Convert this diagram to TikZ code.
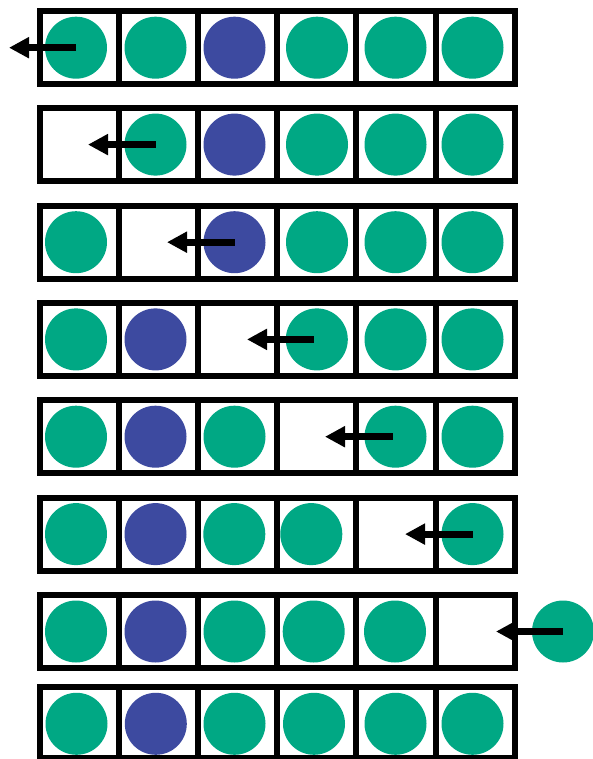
\documentclass[tikz,border=0pt]{standalone}
\usetikzlibrary{arrows.meta}
\definecolor{tealg}{RGB}{0,168,132}
\definecolor{bluec}{RGB}{61,74,160}
\begin{document}
\begin{tikzpicture}[x=1pt,y=-1pt,
  cellbox/.style={draw=black, line width=6pt, minimum width=79.17pt, minimum height=73pt, inner sep=0pt, outer sep=0pt},
  dot/.style={circle, minimum size=62pt, inner sep=0pt, outer sep=0pt},
  pusharrow/.style={line width=7pt, -{Triangle[length=20pt,width=20pt]}}]
\useasboundingbox (0,0) rectangle (593,759);
\clip (0,0) rectangle (593,759);
% cells
\foreach \r/\yc in {1/47.5,2/144.8,3/242.1,4/339.4,5/436.7,6/534,7/631.3}{
  \foreach \j in {1,...,6}{
    \node[cellbox] (cell-\r-\j) at ({39.7+79.17*(\j-0.5)}, \yc) {};
  }
}
\foreach \j in {1,...,6}{
  \node[cellbox, minimum height=70.7pt] (cell-8-\j) at ({39.7+79.17*(\j-0.5)}, 722.65) {};
}
% row 1
\foreach \j/\xx/\cc in {1/76/tealg,2/155.5/tealg,3/234.5/bluec,4/317/tealg,5/395.5/tealg,6/472.5/tealg}
  \node[dot, fill=\cc] (d-1-\j) at (\xx, 47.7) {};
% row 2
\foreach \j/\xx/\cc in {2/155.5/tealg,3/234.5/bluec,4/317/tealg,5/395.5/tealg,6/472.5/tealg}
  \node[dot, fill=\cc] (d-2-\j) at (\xx, 144.6) {};
% row 3
\foreach \j/\xx/\cc in {1/76/tealg,3/234.5/bluec,4/317/tealg,5/395.5/tealg,6/472.5/tealg}
  \node[dot, fill=\cc] (d-3-\j) at (\xx, 242.2) {};
% row 4
\foreach \j/\xx/\cc in {1/76/tealg,2/155.5/bluec,4/316.8/tealg,5/395.5/tealg,6/472.5/tealg}
  \node[dot, fill=\cc] (d-4-\j) at (\xx, 339.4) {};
% row 5
\foreach \j/\xx/\cc in {1/76/tealg,2/155.5/bluec,3/234.5/tealg,5/395.5/tealg,6/472.5/tealg}
  \node[dot, fill=\cc] (d-5-\j) at (\xx, 436.7) {};
% row 6
\foreach \j/\xx/\cc in {1/76/tealg,2/155.5/bluec,3/234.3/tealg,4/311.3/tealg,6/472.5/tealg}
  \node[dot, fill=\cc] (d-6-\j) at (\xx, 534.1) {};
% row 7
\foreach \j/\xx/\cc in {1/76/tealg,2/155.5/bluec,3/234.5/tealg,4/313.7/tealg,5/395/tealg}
  \node[dot, fill=\cc] (d-7-\j) at (\xx, 631.5) {};
\node[dot, fill=tealg] (d-7-ext) at (563, 631.5) {};
% row 8
\foreach \j/\xx/\cc in {1/76.5/tealg,2/155.8/bluec,3/234.5/tealg,4/314/tealg,5/395.5/tealg,6/472.5/tealg}
  \node[dot, fill=\cc] (d-8-\j) at (\xx, 723.8) {};
% arrow ends
\coordinate (t1) at (9, 47.7);
\coordinate (t2) at (88, 144.6);
\coordinate (t3) at (167, 242.2);
\coordinate (t4) at (247, 339.4);
\coordinate (t5) at (325, 436.7);
\coordinate (t6) at (405, 534.1);
\coordinate (t7) at (496, 631.5);
% arrows
\draw[pusharrow] (d-1-1.center) -- (t1);
\draw[pusharrow] (d-2-2.center) -- (t2);
\draw[pusharrow] (d-3-3.center) -- (t3);
\draw[pusharrow] ([xshift=-3pt]d-4-4.center) -- (t4);
\draw[pusharrow] ([xshift=-3pt]d-5-5.center) -- (t5);
\draw[pusharrow] (d-6-6.center) -- (t6);
\draw[pusharrow] (d-7-ext.center) -- (t7);
\end{tikzpicture}
\end{document}
